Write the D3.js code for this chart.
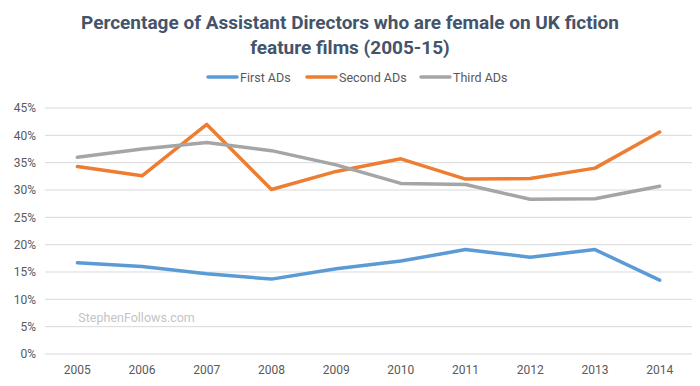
<!DOCTYPE html>
<html>
<head>
<meta charset="utf-8">
<script src="https://cdn.jsdelivr.net/npm/d3@7"></script>
<style>
    body { margin: 0; background: #fff; }
    text { font-family: Roboto, "Noto Sans", sans-serif; }
</style>
</head>
<body>
<div id="chart"></div>
<script>
// chart data
const years = ['2005', '2006', '2007', '2008', '2009', '2010', '2011', '2012', '2013', '2014'];
const firstADs = [16.7, 16.0, 14.7, 13.7, 15.6, 17.0, 19.1, 17.7, 19.1, 13.5];
const secondADs = [34.3, 32.6, 42.0, 30.1, 33.4, 35.7, 32.0, 32.1, 34.0, 40.6];
const thirdADs = [36.0, 37.5, 38.7, 37.2, 34.6, 31.2, 31.0, 28.3, 28.4, 30.7];
const yTicks = [0, 5, 10, 15, 20, 25, 30, 35, 40, 45];
const seriesNames = ['First ADs', 'Second ADs', 'Third ADs'];
const colors = ['#5b9bd5', '#ed7d31', '#a5a5a5'];

const width = 700;
const height = 386;
const margin = { top: 108, right: 8, bottom: 32, left: 45 };

const svg = d3.select('#chart').append('svg').attr('width', width).attr('height', height);

// title
const title = svg.append('text')
    .attr('x', width / 2)
    .attr('text-anchor', 'middle')
    .attr('fill', '#44546a')
    .style('font-size', '19px')
    .style('font-weight', 'bold');
title.append('tspan').attr('x', width / 2).attr('y', 29).text('Percentage of Assistant Directors who are female on UK fiction');
title.append('tspan').attr('x', width / 2).attr('y', 54).text('feature films (2005-15)');

const x = d3.scaleBand().domain(years).range([margin.left, width - margin.right]);
const y = d3.scaleLinear().domain([0, 45]).range([height - margin.bottom, margin.top]);

// gridlines
svg.append('g')
    .selectAll('line')
    .data(yTicks)
    .enter()
    .append('line')
    .attr('x1', margin.left)
    .attr('x2', width - margin.right)
    .attr('y1', d => y(d))
    .attr('y2', d => y(d))
    .attr('stroke', '#d9d9d9')
    .attr('stroke-width', 1);

// y axis labels
const yAxis = svg.append('g')
    .attr('transform', `translate(${margin.left - 9},0)`)
    .call(d3.axisLeft(y).tickValues(yTicks).tickFormat(d => d + '%').tickSize(0).tickPadding(0));
yAxis.select('.domain').remove();
yAxis.selectAll('text').attr('fill', '#595959').style('font-size', '12px');

// x axis labels
const xAxis = svg.append('g')
    .attr('transform', `translate(0,${height - margin.bottom})`)
    .call(d3.axisBottom(x).tickSize(0).tickPadding(11));
xAxis.select('.domain').remove();
xAxis.selectAll('text').attr('fill', '#595959').style('font-size', '12px');

// watermark
svg.append('text')
    .attr('x', x('2005') + x.bandwidth() / 2 + 1)
    .attr('y', y(5.9))
    .attr('fill', '#c4c4c4')
    .style('font-size', '12.5px')
    .text('StephenFollows.com');

// lines
const line = d3.line()
    .x((d, i) => x(years[i]) + x.bandwidth() / 2)
    .y(d => y(d));

[firstADs, secondADs, thirdADs].forEach((values, i) => {
    svg.append('path')
        .datum(values)
        .attr('d', line)
        .attr('fill', 'none')
        .attr('stroke', colors[i])
        .attr('stroke-width', 3.5)
        .attr('stroke-linejoin', 'round')
        .attr('stroke-linecap', 'round');
});

// legend
const legendX = [208, 307, 421];
const legend = svg.append('g');
seriesNames.forEach((name, i) => {
    legend.append('line')
        .attr('x1', legendX[i])
        .attr('x2', legendX[i] + 29)
        .attr('y1', 77)
        .attr('y2', 77)
        .attr('stroke', colors[i])
        .attr('stroke-width', 3.5)
        .attr('stroke-linecap', 'round');
    legend.append('text')
        .attr('x', legendX[i] + 32)
        .attr('y', 81.5)
        .attr('fill', '#595959')
        .style('font-size', '12.5px')
        .text(name);
});
</script>
</body>
</html>
